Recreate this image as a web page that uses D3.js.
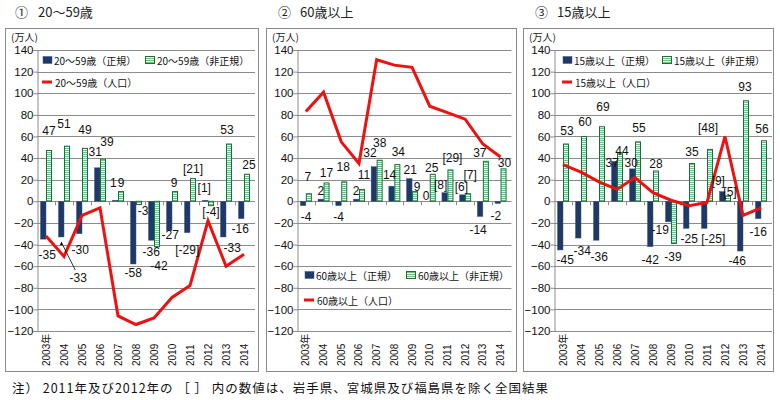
<!DOCTYPE html>
<html><head><meta charset="utf-8">
<script src="https://cdn.jsdelivr.net/npm/d3@7"></script>
<style>body{margin:0;background:#fff;} svg{display:block}</style>
</head><body><svg id="c" width="780" height="400"></svg>
<script>
// ---------------- DATA ----------------
const years = ["2003","2004","2005","2006","2007","2008","2009","2010","2011","2012","2013","2014"];
const bracketYears = ["2011","2012"];
const yTicks = [140,120,100,80,60,40,20,0,-20,-40,-60,-80,-100,-120];

const reg2059    = [-35,-33,-30,31,1,-58,-36,-27,-29,1,-33,-16];
const nonreg2059 = [47,51,49,39,9,-3,-42,9,21,-4,53,25];
const pop2059    = [-32,-51,-13,-6,-106,-114,-108,-89,-78,-18,-60,-49];

const reg60    = [-4,2,-4,2,32,14,21,0,8,6,-14,-2];
const nonreg60 = [7,17,18,11,38,34,9,25,29,7,37,30];
const pop60    = [83,101,55,35,131,126,124,88,82,76,53,41];

const reg15    = [-45,-34,-36,37,30,-42,-19,-25,-25,9,-46,-16];
const nonreg15 = [53,60,69,44,55,28,-39,35,48,5,93,56];
const pop15    = [34,27,18,11,22,8,1,-4,-1,60,-13,-6];

const titles = ["20～59歳","60歳以上","15歳以上"];
const titleMarks = ["①","②","③"];
const note = "注） 2011年及び2012年の ［ ］ 内の数値は、岩手県、宮城県及び福島県を除く全国結果";

// ---------------- LAYOUT ----------------
const panels = [
  {box:[5,28,258,371], plotL:37, band:18, title:[15,38], legendY:[60,82], legendX:[43,145],
   reg:reg2059, non:nonreg2059, pop:pop2059,
   regN:[[4,6],[17,31],[1,6],[-2,-6],[-2,-7],[0,-1],[0,2],[1,-5],[0,7],[-1,-2],[9,1],[-1,0]],
   nonN:[[0,-10],[-3,-12],[0,-8],[4,-7],[0,1],[4,-4],[2,9],[-1,1],[0,0],[0,-4],[-2,-4],[2,1]],
   leader:true},
  {box:[266,28,516,371], plotL:297, band:17.7, title:[278,300], legendY:[275,300], legendX:[305,406],
   reg:reg60, non:nonreg60, pop:pop60,
   regN:[[3,1],[0,2],[0,1],[0,2],[-4,-4],[-2,-1],[1,1],[-1,5],[-4,2],[-1,2],[-2,4],[-2,3]],
   nonN:[[-1,-7],[0,0],[-1,-5],[2,-4],[0,-7],[1,-3],[2,5],[-1,4],[2,-2],[2,-9],[-6,2],[1,4]]},
  {box:[523,28,773,371], plotL:554, band:18, title:[535,557], legendY:[60,82], legendX:[563,662],
   reg:reg15, non:nonreg15, pop:pop15,
   regN:[[5,0],[4,3],[3,7],[-2,12],[-1,4],[0,3],[-8,-2],[3,1],[9,1],[-4,-1],[-3,0],[0,3]],
   nonN:[[1,-3],[1,-4],[1,-10],[2,7],[1,-4],[0,3],[-1,4],[0,-1],[-2,-11],[2,6],[-1,-4],[-2,-2]]}
];

const NAVY = "#1F3864", GREEN_STROKE = "#2A6637", GREEN_FILL = "#6CC482", RED = "#EE1111", GRID = "#8C8C8C";
const LATIN = "'Liberation Sans', Arial, 'Noto Sans CJK JP', sans-serif";
const CJK = "'Noto Sans CJK JP', 'Liberation Sans', sans-serif";

const svg = d3.select("#c");
const defs = svg.append("defs");
const pat = defs.append("pattern").attr("id","stripe").attr("patternUnits","userSpaceOnUse")
  .attr("width",4).attr("height",2);
pat.append("rect").attr("width",4).attr("height",2).attr("fill","#fff");
pat.append("rect").attr("width",4).attr("height",1).attr("fill",GREEN_FILL);

const y = d3.scaleLinear().domain([-120,140]).range([331,50]);
const fmt = (v, yr) => bracketYears.includes(yr) ? "[" + v + "]" : String(v);

panels.forEach((p, pi) => {
  const g = svg.append("g");
  const plotR = p.plotL + p.band * years.length;
  const x = d3.scaleBand().domain(years).range([p.plotL, plotR]).padding(0);
  const cx = d => x(d) + x.bandwidth()/2;

  // title
  g.append("text").attr("x", p.title[0]).attr("y", 17).attr("font-family", CJK).attr("font-size", 13)
    .attr("fill","#222").text(titleMarks[pi]);
  g.append("text").attr("x", p.title[1]).attr("y", 17).attr("font-family", CJK).attr("font-size", 13)
    .attr("fill","#222").text(titles[pi]);

  // box
  g.append("rect").attr("x", p.box[0]+0.5).attr("y", p.box[1]+0.5)
    .attr("width", p.box[2]-p.box[0]).attr("height", p.box[3]-p.box[1])
    .attr("fill","none").attr("stroke","#8a8a8a");

  // unit label
  g.append("text").attr("x", p.box[0]+6).attr("y", 41).attr("font-family", CJK).attr("font-size", 10)
    .attr("fill","#222").text("(万人)");

  // grid + y axis
  const yAxis = d3.axisLeft(y).tickValues(yTicks).tickSize(4).tickFormat(d3.format("d"));
  const ga = g.append("g").attr("transform", `translate(${p.plotL+0.5},0)`).call(yAxis);
  ga.select(".domain").attr("stroke", GRID);
  ga.selectAll(".tick line").attr("stroke", GRID);
  ga.selectAll(".tick text").attr("font-family", LATIN).attr("font-size", 11.5).attr("fill","#111").attr("x",-4);
  g.append("g").selectAll("line").data(yTicks).join("line")
    .attr("x1", p.plotL).attr("x2", plotR + 2)
    .attr("y1", d => Math.round(y(d))+0.5).attr("y2", d => Math.round(y(d))+0.5)
    .attr("stroke", GRID).attr("stroke-width", 1);

  // x ticks at band boundaries
  g.append("g").selectAll("line").data(years.slice(1)).join("line")
    .attr("x1", d => Math.round(x(d))+0.5).attr("x2", d => Math.round(x(d))+0.5)
    .attr("y1", y(0)).attr("y2", y(0)+4).attr("stroke", GRID);

  // year labels
  g.append("g").selectAll("text").data(years).join("text")
    .attr("transform", d => `translate(${cx(d)},366) rotate(-90)`)
    .attr("dominant-baseline","central").attr("font-family", LATIN).attr("font-size", 10).attr("fill","#111")
    .text((d,i) => i === 0 ? d + "年" : d);

  // bars
  const regW = 5.5, nonW = 6;
  g.append("g").selectAll("rect").data(p.reg).join("rect")
    .attr("x", (v,i) => cx(years[i]) - regW).attr("width", regW)
    .attr("y", v => Math.min(y(v), y(0))).attr("height", v => Math.abs(y(v)-y(0)))
    .attr("fill", NAVY).attr("stroke","#3b5b8f").attr("stroke-width",0.5);
  g.append("g").selectAll("rect").data(p.non).join("rect")
    .attr("x", (v,i) => cx(years[i]) + 0.5).attr("width", nonW - 1)
    .attr("y", v => Math.min(y(v), y(0))).attr("height", v => Math.abs(y(v)-y(0)))
    .attr("fill", "url(#stripe)").attr("stroke", GREEN_STROKE).attr("stroke-width",1);

  // population line
  const line = d3.line().x((v,i) => cx(years[i])).y(v => y(v));
  g.append("path").datum(p.pop).attr("d", line).attr("fill","none")
    .attr("stroke", RED).attr("stroke-width", 3).attr("stroke-linejoin","miter");

  // data labels
  const lab = (vals, nudges, off) => g.append("g").selectAll("text").data(vals).join("text")
    .attr("x", (v,i) => cx(years[i]) + off + nudges[i][0])
    .attr("y", (v,i) => y(v) + (v >= 0 ? -10 : 10) + nudges[i][1])
    .attr("text-anchor","middle").attr("dominant-baseline","central")
    .attr("font-family", LATIN).attr("font-size", 12).attr("fill","#111")
    .text((v,i) => fmt(v, years[i]));
  lab(p.reg, p.regN, -2.75);
  lab(p.non, p.nonN, 3);

  if (p.leader) {
    const i = 1, v = p.reg[1];
    const x0 = cx(years[i]) - 2.75, y0 = y(v) + 5;
    g.append("line").attr("x1", x0).attr("y1", y0).attr("x2", x0 + 14).attr("y2", y0 + 28)
      .attr("stroke","#000").attr("stroke-width",0.8);
    g.append("path").attr("d", `M${x0},${y0} l-1.5,3.5 l3,-0.8 z`).attr("fill","#000");
  }

  // legend
  const lg = g.append("g").attr("font-family", CJK).attr("font-size", 10).attr("fill","#111");
  const [lx1, lx2] = p.legendX, [ly1, ly2] = p.legendY;
  lg.append("rect").attr("x", lx1).attr("y", ly1-3.5).attr("width", 9).attr("height", 7)
    .attr("fill", NAVY).attr("stroke","#3b5b8f").attr("stroke-width",0.5);
  lg.append("text").attr("x", lx1+11).attr("y", ly1).attr("dominant-baseline","central").text(titles[pi] + "（正規）");
  lg.append("rect").attr("x", lx2+0.5).attr("y", ly1-3.5).attr("width", 9).attr("height", 7)
    .attr("fill", "url(#stripe)").attr("stroke", GREEN_STROKE);
  lg.append("text").attr("x", lx2+12).attr("y", ly1).attr("dominant-baseline","central").text(titles[pi] + "（非正規）");
  lg.append("line").attr("x1", lx1-1).attr("x2", lx1+9).attr("y1", ly2).attr("y2", ly2)
    .attr("stroke", RED).attr("stroke-width", 3);
  lg.append("text").attr("x", lx1+12).attr("y", ly2).attr("dominant-baseline","central").text(titles[pi] + "（人口）");
});

svg.append("text").attr("x", 12).attr("y", 387).attr("dominant-baseline","central")
  .attr("font-family", CJK).attr("font-size", 12.5).attr("fill","#111")
  .attr("textLength", 536).attr("lengthAdjust","spacing").text(note);
</script>
</body></html>
